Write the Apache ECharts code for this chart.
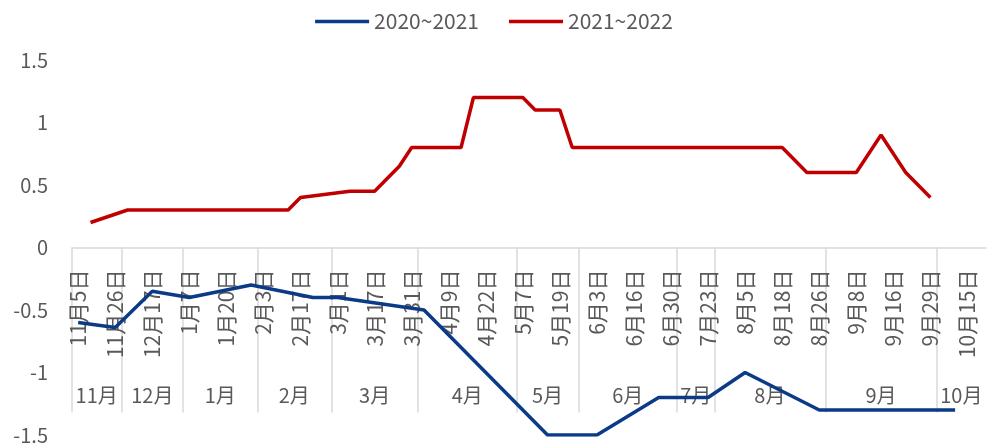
<!DOCTYPE html>
<html>
<head>
<meta charset="utf-8">
<script src="https://cdn.jsdelivr.net/npm/echarts@6/dist/echarts.min.js"></script>
<style>
    html, body { margin: 0; padding: 0; background: #fff; }
    #chart { width: 988px; height: 447px; }
</style>
</head>
<body>
<div id="chart"></div>
<script>
// labelled dates, one every 3rd category
var dateLabels = ['11月5日', '11月26日', '12月17日', '1月7日', '1月20日', '2月3日', '2月17日', '3月1日', '3月17日',
    '3月31日', '4月9日', '4月22日', '5月7日', '5月19日', '6月3日', '6月16日', '6月30日', '7月23日', '8月5日',
    '8月18日', '8月26日', '9月8日', '9月16日', '9月29日', '10月15日'];
var monthNames = ['11月', '12月', '1月', '2月', '3月', '4月', '5月', '6月', '7月', '8月', '9月', '10月'];
var monthCounts = [4, 5, 6, 6, 7, 8, 5, 8, 3, 9, 9, 4];
var yTicks = [-1.5, -1, -0.5, 0, 0.5, 1, 1.5];
var seriesNames = ['2020~2021', '2021~2022'];

// values per category (null = no turning point read there)
var data2021 = [
    -0.6, null, null, -0.64, null, null, -0.35, null, null, -0.4,
    null, null, null, null, -0.3, null, null, null, null, -0.4,
    null, -0.4, null, null, null, null, null, null, -0.5, null,
    null, null, null, null, null, null, null, null, -1.5, null,
    null, null, -1.5, null, null, null, null, -1.2, null, null,
    null, -1.2, null, null, -1.0, null, null, null, null, null,
    -1.3, null, null, null, null, null, null, null, null, null,
    null, -1.3, null, null
];
var data2022 = [
    null, 0.2, null, null, 0.3, null, null, null, null, null,
    null, null, null, null, null, null, null, 0.3, 0.4, null,
    null, null, 0.45, null, 0.45, null, 0.65, 0.8, null, null,
    null, 0.8, 1.2, null, null, null, 1.2, 1.1, null, 1.1,
    0.8, null, null, null, null, null, null, null, null, null,
    null, null, null, null, null, null, null, 0.8, null, 0.6,
    null, null, null, 0.6, null, 0.9, null, 0.6, null, 0.4,
    null, null, null, null
];

var categories = [];
for (var i = 0; i < data2021.length; i++) {
    categories.push(i % 3 === 0 ? dateLabels[i / 3] : '');
}

// month boundaries and centres in category units
var monthEdges = [-0.5];
var monthCenters = [];
monthCounts.forEach(function (n) {
    var start = monthEdges[monthEdges.length - 1];
    monthEdges.push(start + n);
    monthCenters.push(start + n / 2);
});

var txtColor = '#595959';
var gridLine = '#D9D9D9';
var font = 'Noto Sans CJK SC';
// plot area, and a band whose bottom edge sits on the zero line for the two label rows
var plotBox = { left: 72, right: 2, top: 60, bottom: 12, containLabel: false, outerBoundsMode: 'none' };
var zeroBox = { left: 72, right: 2, top: 60, bottom: 199.5, containLabel: false, outerBoundsMode: 'none' };

var chart = echarts.init(document.getElementById('chart'));
var option = {
    backgroundColor: '#fff',
    textStyle: { fontFamily: font },
    legend: {
        top: 6,
        left: 'center',
        icon: 'rect',
        itemWidth: 54,
        itemHeight: 3.5,
        itemGap: 30,
        textStyle: { color: txtColor, fontSize: 21, fontFamily: font },
        data: seriesNames
    },
    grid: [plotBox, zeroBox, Object.assign({}, zeroBox)],
    xAxis: [{
        type: 'category',
        gridIndex: 0,
        data: categories,
        boundaryGap: true,
        show: false
    }, {
        type: 'category',
        gridIndex: 1,
        data: categories,
        boundaryGap: true,
        axisLine: { onZero: false, lineStyle: { color: gridLine, width: 1.5 } },
        axisTick: { show: false },
        axisLabel: {
            interval: 2,
            rotate: 90,
            margin: 22,
            color: txtColor,
            fontSize: 21,
            fontFamily: font
        },
        splitLine: { show: false }
    }, {
        type: 'value',
        gridIndex: 2,
        min: -0.5,
        max: 73.5,
        axisLine: { show: false, onZero: false },
        axisTick: {
            show: true,
            inside: false,
            length: 165,
            customValues: monthEdges.slice(0, monthEdges.length - 1),
            lineStyle: { color: gridLine, width: 1.5 }
        },
        axisLabel: {
            customValues: monthCenters,
            margin: 138,
            color: txtColor,
            fontSize: 20,
            fontFamily: font,
            formatter: function (v) {
                var k = monthCenters.indexOf(v);
                return k >= 0 ? monthNames[k] : '';
            }
        },
        splitLine: { show: false }
    }],
    yAxis: [{
        type: 'value',
        gridIndex: 0,
        min: yTicks[0],
        max: yTicks[yTicks.length - 1],
        interval: 0.5,
        axisLine: { show: false },
        axisTick: { show: false },
        splitLine: { show: false },
        axisLabel: { color: txtColor, fontSize: 20, margin: 24, fontFamily: font }
    }, {
        type: 'value',
        gridIndex: 1,
        min: 0,
        max: 1,
        show: false
    }, {
        type: 'value',
        gridIndex: 2,
        min: 0,
        max: 1,
        show: false
    }],
    series: [{
        name: seriesNames[0],
        type: 'line',
        xAxisIndex: 0,
        yAxisIndex: 0,
        data: data2021,
        connectNulls: true,
        symbol: 'none',
        color: '#0A3A88',
        lineStyle: { width: 3.5, color: '#0A3A88' },
        z: 5
    }, {
        name: seriesNames[1],
        type: 'line',
        xAxisIndex: 0,
        yAxisIndex: 0,
        data: data2022,
        connectNulls: true,
        symbol: 'none',
        color: '#C00000',
        lineStyle: { width: 3.5, color: '#C00000' },
        z: 5
    }]
};
chart.setOption(option);
</script>
</body>
</html>
